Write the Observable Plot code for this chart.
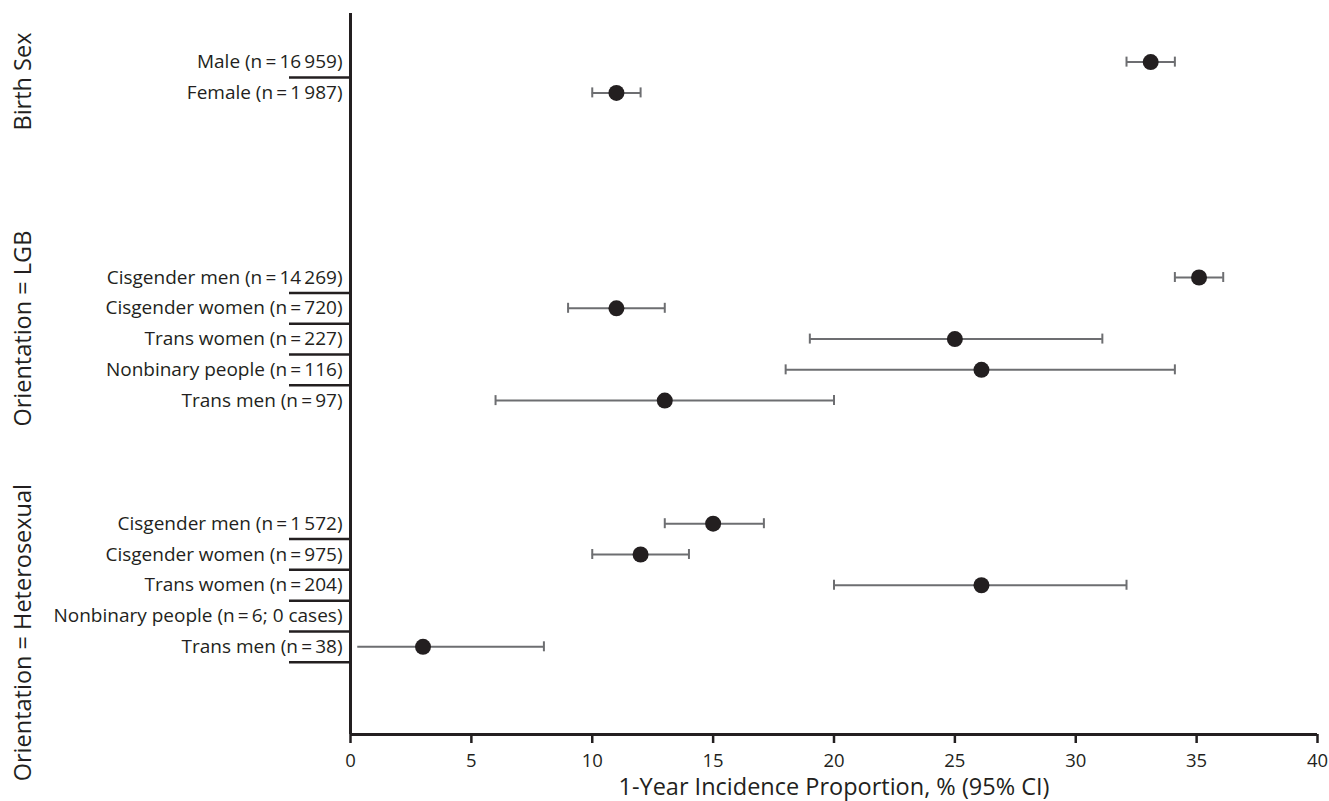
<!DOCTYPE html>
<html>
<head>
<meta charset="utf-8">
<script src="https://cdn.jsdelivr.net/npm/d3@7"></script>
<script src="https://cdn.jsdelivr.net/npm/@observablehq/plot@0.6"></script>
<style>
  html, body { margin: 0; padding: 0; background: #fff; }
  #chart svg { display: block; }
</style>
</head>
<body>
<div id="chart"></div>
<script>
// ---------- data ----------
const groups = ["Birth Sex", "Orientation = LGB", "Orientation = Heterosexual"];
const labels = [
  "Male (n\u2009=\u200916\u2009959)",
  "Female (n\u2009=\u20091\u2009987)",
  "Cisgender men (n\u2009=\u200914\u2009269)",
  "Cisgender women (n\u2009=\u2009720)",
  "Trans women (n\u2009=\u2009227)",
  "Nonbinary people (n\u2009=\u2009116)",
  "Trans men (n\u2009=\u200997)",
  "Cisgender men (n\u2009=\u20091\u2009572)",
  "Cisgender women (n\u2009=\u2009975)",
  "Trans women (n\u2009=\u2009204)",
  "Nonbinary people (n\u2009=\u20096; 0 cases)",
  "Trans men (n\u2009=\u200938)"
];
const groupOf  = [0, 0, 1, 1, 1, 1, 1, 2, 2, 2, 2, 2];
const estimate = [33.1, 11.0, 35.1, 11.0, 25.0, 26.1, 13.0, 15.0, 12.0, 26.1, null, 3.0];
const lower    = [32.1, 10.0, 34.1,  9.0, 19.0, 18.0,  6.0, 13.0, 10.0, 20.0, null, 0.3];
const upper    = [34.1, 12.0, 36.1, 13.0, 31.1, 34.1, 20.0, 17.1, 14.0, 32.1, null, 8.0];
const noLowerCap = [11]; // lower CI truncated, drawn without cap
const xTicks = [0, 5, 10, 15, 20, 25, 30, 35, 40];
const xTitle = "1-Year Incidence Proportion, % (95% CI)";

// ---------- layout (row units) ----------
const groupStartRow = [0, 7, 15];
const groupLabelShift = [0.13, -0.34, 1.54];
const trailingDivider = [false, false, true];
const yDomain = [21.85, -1.58];

// ---------- build ----------
const rows = labels.map((label, i) => {
  const g = groupOf[i];
  const within = groupOf.slice(0, i).filter(v => v === g).length;
  return {i, label, group: g, row: groupStartRow[g] + within,
          est: estimate[i], lo: lower[i], hi: upper[i]};
});
const labelAt = new Map(rows.map(r => [r.row, r.label]));
const dividers = [];
groups.forEach((name, g) => {
  const rs = rows.filter(r => r.group === g);
  rs.forEach((r, k) => {
    if (k < rs.length - 1 || trailingDivider[g]) dividers.push(r.row + 0.5);
  });
});
const groupLabels = groups.map((name, g) => {
  const rs = rows.filter(r => r.group === g).map(r => r.row);
  return {name, mid: d3.mean(rs) + groupLabelShift[g]};
});
const withCI = rows.filter(r => r.est != null);

const ink = "#231f20";
const grey = "#6d6e71";

const chart = Plot.plot({
  width: 1329,
  height: 801,
  marginTop: 13,
  marginBottom: 67,
  marginLeft: 350,
  marginRight: 12,
  style: {fontFamily: "'Open Sans', sans-serif", color: ink, background: "#fff", overflow: "visible"},
  x: {domain: [0, 40]},
  y: {domain: yDomain},
  marks: [
    Plot.axisX(xTicks, {tickSize: 9, tickPadding: 10, strokeWidth: 2.5, stroke: ink, fill: ink, fontSize: 18.5, label: null}),
    Plot.axisY(dividers, {tickSize: 61, tickFormat: () => "", strokeWidth: 2.5, stroke: ink, label: null}),
    Plot.axisY(rows.map(r => r.row), {tickSize: 0, tickPadding: 8, tickFormat: v => labelAt.get(v), fontSize: 19, fill: ink, label: null}),
    Plot.ruleX([0], {stroke: ink, strokeWidth: 3}),
    Plot.ruleY([yDomain[0]], {stroke: ink, strokeWidth: 3}),
    Plot.ruleY(withCI, {y: "row", x1: "lo", x2: "hi", stroke: grey, strokeWidth: 2}),
    Plot.ruleX(withCI.filter(r => !noLowerCap.includes(r.i)), {x: "lo", y1: "row", y2: "row", insetTop: -5, insetBottom: -5, stroke: grey, strokeWidth: 2}),
    Plot.ruleX(withCI, {x: "hi", y1: "row", y2: "row", insetTop: -5, insetBottom: -5, stroke: grey, strokeWidth: 2}),
    Plot.dot(withCI, {x: "est", y: "row", r: 8, fill: ink, stroke: "none"}),
    Plot.text(groupLabels, {x: 0, y: "mid", text: "name", rotate: -90, dx: -327, fontSize: 23.5, fill: ink}),
    Plot.text([xTitle], {frameAnchor: "bottom", dy: 60, lineAnchor: "bottom", fontSize: 23.5, fill: ink})
  ]
});
document.getElementById("chart").appendChild(chart);
</script>
</body>
</html>
